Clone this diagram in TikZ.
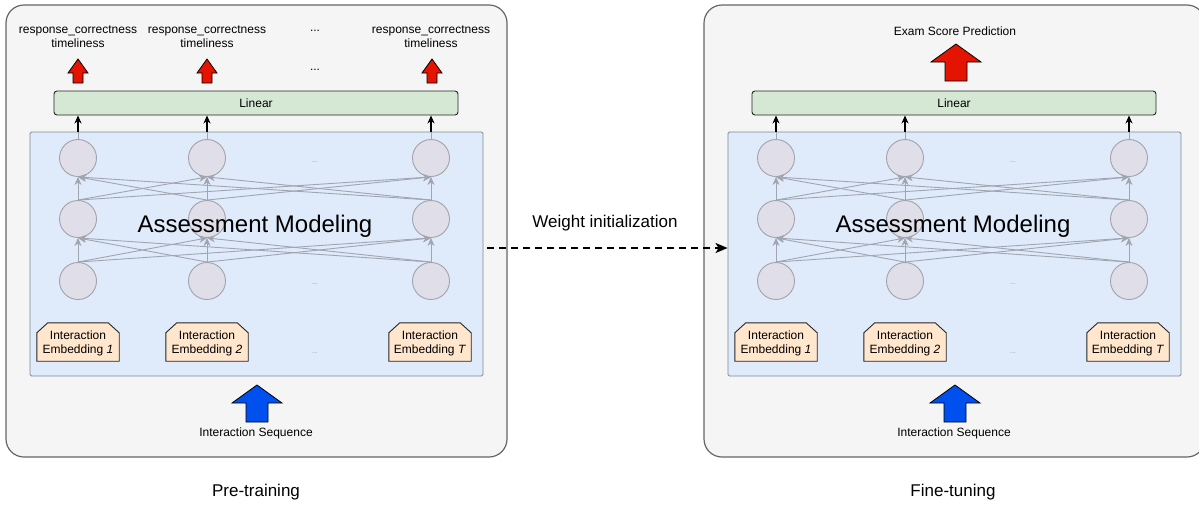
\documentclass[tikz,border=0pt]{standalone}
\usepackage{fontspec}
\setmainfont{Liberation Sans}
\usetikzlibrary{arrows.meta}
\definecolor{outerfill}{HTML}{F5F5F5}
\definecolor{outerline}{HTML}{666666}
\definecolor{bluefill}{HTML}{DFEAFA}
\definecolor{blueline}{HTML}{7F8A99}
\definecolor{greenfill}{HTML}{D5E8D4}
\definecolor{orangefill}{HTML}{FFE6CC}
\definecolor{neuronfill}{HTML}{E0DEE8}
\definecolor{neuronline}{HTML}{A3A3AB}
\definecolor{grayarrow}{HTML}{A0A5B0}
\definecolor{arrowred}{HTML}{E51400}
\definecolor{arrowblue}{HTML}{0050EF}
\begin{document}
\begin{tikzpicture}[x=1pt,y=-1pt,
  outerbox/.style={draw=outerline, fill=outerfill, line width=1.2pt, rounded corners=18pt, inner sep=0pt, minimum width=501pt, minimum height=452pt},
  innerbox/.style={draw=blueline, fill=bluefill, line width=0.9pt, rounded corners=1.5pt, inner sep=0pt, minimum width=453pt, minimum height=244pt},
  linbox/.style={draw=black!85, fill=greenfill, line width=0.9pt, rounded corners=3pt, inner sep=0pt, minimum width=404pt, minimum height=24pt, font=\fontsize{12}{14}\selectfont},
  embframe/.style={rectangle, inner sep=0pt, minimum width=82pt, minimum height=38pt},
  embline/.style={draw=black!85, fill=orangefill, line width=0.9pt, line join=miter},
  embtext/.style={align=center, inner sep=0pt, font=\fontsize{12}{14}\selectfont},
  neuron/.style={circle, draw=neuronline, fill=neuronfill, line width=0.9pt, minimum size=37pt, inner sep=0pt},
  txt/.style={font=\fontsize{12}{14}\selectfont, align=center, inner sep=0pt},
  dots/.style={font=\fontsize{7}{8}\selectfont, text=black!40, inner sep=0pt},
  grayarr/.style={draw=grayarrow, line width=0.9pt, -{Stealth[length=8pt,width=7pt,inset=2.5pt]}},
  grayline/.style={draw=grayarrow, line width=0.9pt},
  blackarr/.style={draw=black, line width=1.2pt, -{Stealth[length=8pt,width=7pt,inset=2.5pt]}},
  pics/smallup/.style={code={\draw[fill=#1, draw=black, line width=0.8pt, line join=miter] (-5,0) -- (-5,-10) -- (-10,-10) -- (0,-24) -- (10,-10) -- (5,-10) -- (5,0) -- cycle;}},
  pics/bigup/.style={code={\draw[fill=#1, draw=black, line width=0.8pt, line join=miter] (-11,0) -- (-11,-19) -- (-25,-19) -- (0,-37) -- (25,-19) -- (11,-19) -- (11,0) -- cycle;}}
]
\useasboundingbox (0,0) rectangle (1199,504);
\clip (0,0) rectangle (1199,504);

\foreach \p/\ox in {A/0,B/698}{
  \node[outerbox] (outer\p) at (256.5+\ox,231) {};
  \node[innerbox] (blue\p) at (256.5+\ox,254) {};
  \node[linbox] (lin\p) at (256+\ox,103) {Linear};
  % neurons
  \foreach \c/\x in {1/78,2/207,3/431}{
    \foreach \r/\y in {1/158,2/219,3/281}{
      \node[neuron] (\p n\r\c) at (\x+\ox,\y) {};
    }
  }
  \foreach \a in {1,2,3}{
    \foreach \b in {1,2,3}{
      \draw[grayarr] (\p n3\a.north) -- (\p n2\b.south);
      \draw[grayarr] (\p n2\a.north) -- (\p n1\b.south);
    }
  }
  \foreach \c in {1,2,3}{
    \draw[grayline] (\p n1\c.north) -- (\p n1\c.north |- blue\p.north);
    \draw[blackarr] (\p n1\c.north |- blue\p.north) -- (\p n1\c.north |- lin\p.south);
  }
  \node[dots] (\p d1) at (315+\ox,162) {...};
  \node[dots] (\p d2) at (315+\ox,284) {...};
  \node[dots] (\p d3) at (315+\ox,353) {...};
  % interaction embeddings
  \foreach \k/\x/\lab in {1/78/1,2/207/2,3/430/T}{
    \node[embframe] (\p e\k) at (\x+\ox,342) {};
    \draw[embline] (\p e\k.south west) -- ([yshift=-10pt]\p e\k.north west) -- ([xshift=11pt]\p e\k.north west) -- ([xshift=-11pt]\p e\k.north east) -- ([yshift=-10pt]\p e\k.north east) -- (\p e\k.south east) -- cycle;
    \node[embtext] (\p et\k) at ([yshift=-1pt]\p e\k.center) {Interaction\\Embedding \textit{\lab}};
  }
  \node[font=\fontsize{24}{28}\selectfont, inner sep=0pt] (\p title) at (255+\ox,226) {Assessment Modeling};
  \pic at (257+\ox,422) {bigup=arrowblue};
  \node[txt] (\p seq) at (256+\ox,433) {Interaction Sequence};
}

% left outputs
\pic at (78,83) {smallup=arrowred};
\pic at (207,83) {smallup=arrowred};
\pic at (432,83) {smallup=arrowred};
\node[txt] (o1) at (78,37) {response\_correctness\\timeliness};
\node[txt] (o2) at (207,37) {response\_correctness\\timeliness};
\node[txt] (o3) at (431,37) {response\_correctness\\timeliness};
\node[txt] (od1) at (315,31) {...};
\node[txt] (od2) at (315,70) {...};

% right output
\pic at (956,81) {bigup=arrowred};
\node[txt] (exam) at (955,31) {Exam Score Prediction};

% transfer
\draw[line width=1.6pt, dash pattern=on 7pt off 5pt, shorten <=4pt, -{Stealth[length=12pt,width=10pt,inset=3pt]}] ([yshift=6pt]blueA.east) -- ([yshift=6pt]blueB.west);
\node[font=\fontsize{17}{20}\selectfont, inner sep=0pt] (wi) at (605,223) {Weight initialization};

\node[font=\fontsize{17}{20}\selectfont, inner sep=0pt] (pre) at (256,492) {Pre-training};
\node[font=\fontsize{17}{20}\selectfont, inner sep=0pt] (fine) at (953,492) {Fine-tuning};
\end{tikzpicture}
\end{document}
